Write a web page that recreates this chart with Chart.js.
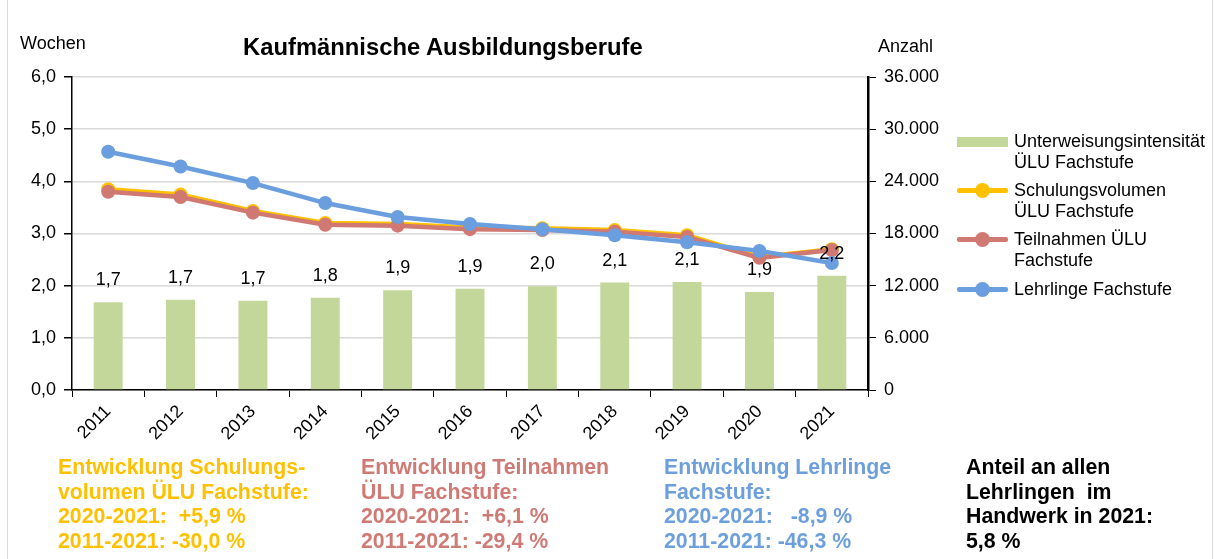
<!DOCTYPE html>
<html>
<head>
<meta charset="utf-8">
<script src="https://cdn.jsdelivr.net/npm/chart.js@4/dist/chart.umd.min.js"></script>
<style>
  body { margin: 0; background: #fff; font-family: "Liberation Sans", Arial, sans-serif; }
  #wrap { position: relative; width: 1220px; height: 559px; overflow: hidden; }
  #chart { position: absolute; left: 0; top: 0; }
  .frame { position: absolute; top: 0; width: 1px; height: 559px; background: #d9d9d9; }
  .lbl { position: absolute; white-space: nowrap; }
  .title { font-weight: bold; font-size: 23.8px; color: #000; }
  .axisName { font-size: 18px; color: #000; }
  .legend { position: absolute; left: 957px; font-size: 18px; line-height: 21px; color: #000; }
  .legend .item { position: absolute; left: 0; width: 260px; }
  .legend .txt { position: absolute; left: 57px; top: 0; }
  .legend .sw { position: absolute; left: 0; width: 51px; }
  .legend .dot { position: absolute; left: 18px; width: 15px; height: 15px; border-radius: 50%; }
  .note { position: absolute; top: 455px; font-weight: bold; font-size: 21.3px; line-height: 24.5px; white-space: nowrap; }
</style>
</head>
<body>
<div id="wrap">
  <div class="frame" style="left:7px"></div>
  <div class="frame" style="left:1212px"></div>
  <canvas id="chart" width="1220" height="559"></canvas>

  <div class="lbl axisName" style="left:20px; top:33px;">Wochen</div>
  <div class="lbl title" style="left:243px; top:33px;">Kaufmännische Ausbildungsberufe</div>
  <div class="lbl axisName" style="left:878px; top:36px;">Anzahl</div>

  <div class="legend" id="legend"></div>

  <div class="note" style="left:58px; color:#FFC000;">Entwicklung Schulungs-<br>volumen ÜLU Fachstufe:<br>2020-2021:&nbsp; +5,9 %<br>2011-2021: -30,0 %</div>
  <div class="note" style="left:361px; color:#D07A75;">Entwicklung Teilnahmen<br>ÜLU Fachstufe:<br>2020-2021:&nbsp; +6,1 %<br>2011-2021: -29,4 %</div>
  <div class="note" style="left:664px; color:#6D9FDD;">Entwicklung Lehrlinge<br>Fachstufe:<br>2020-2021: &nbsp; -8,9 %<br>2011-2021: -46,3 %</div>
  <div class="note" style="left:966px; color:#000;">Anteil an allen<br>Lehrlingen&nbsp; im<br>Handwerk in 2021:<br>5,8 %</div>
</div>

<script>
// data
const years = ['2011', '2012', '2013', '2014', '2015', '2016', '2017', '2018', '2019', '2020', '2021'];
const intensitaet = [1.68, 1.73, 1.71, 1.77, 1.91, 1.94, 1.99, 2.06, 2.07, 1.88, 2.19];
const schulungsvolumen = [23100, 22500, 20600, 19200, 19100, 18700, 18600, 18400, 17800, 15300, 16200];
const teilnahmen = [22800, 22200, 20400, 19000, 18900, 18500, 18400, 18200, 17600, 15200, 16100];
const lehrlinge = [27400, 25700, 23800, 21500, 19900, 19100, 18500, 17800, 17000, 16000, 14600];
const leftTicks = [0, 1, 2, 3, 4, 5, 6];
const rightTicks = [0, 6000, 12000, 18000, 24000, 30000, 36000];

const GREEN = '#C4D79B';
const YELLOW = '#FFC000';
const RED = '#D07872';
const BLUE = '#6A9EDE';

const FONT = "'Liberation Sans', Arial, sans-serif";

function dotThousands(v) {
  return String(v).replace(/\B(?=(\d{3})+(?!\d))/g, '.');
}

// values above the bars, with a decimal comma
const barLabels = {
  id: 'barLabels',
  afterDatasetsDraw(chart) {
    const meta = chart.getDatasetMeta(0);
    const ctx = chart.ctx;
    ctx.save();
    ctx.font = '18px ' + FONT;
    ctx.fillStyle = '#000';
    ctx.textAlign = 'center';
    ctx.textBaseline = 'middle';
    meta.data.forEach((bar, i) => {
      const txt = intensitaet[i].toFixed(1).replace('.', ',');
      ctx.fillText(txt, bar.x, bar.y - 22);
    });
    ctx.restore();
  }
};

const lineSet = (label, data, color, order) => ({
  type: 'line',
  label: label,
  data: data,
  yAxisID: 'y1',
  borderColor: color,
  backgroundColor: color,
  borderWidth: 4.5,
  pointRadius: 7,
  pointHoverRadius: 7,
  pointBorderWidth: 0,
  tension: 0,
  order: order
});

new Chart(document.getElementById('chart'), {
  type: 'bar',
  data: {
    labels: years,
    datasets: [
      {
        label: 'Unterweisungsintensität ÜLU Fachstufe',
        data: intensitaet,
        yAxisID: 'y',
        backgroundColor: GREEN,
        categoryPercentage: 1,
        barPercentage: 0.4,
        order: 4
      },
      lineSet('Schulungsvolumen ÜLU Fachstufe', schulungsvolumen, YELLOW, 3),
      lineSet('Teilnahmen ÜLU Fachstufe', teilnahmen, RED, 2),
      lineSet('Lehrlinge Fachstufe', lehrlinge, BLUE, 1)
    ]
  },
  options: {
    responsive: false,
    animation: false,
    layout: { padding: { left: 0, right: 272, top: 77, bottom: 99 } },
    plugins: {
      legend: { display: false },
      tooltip: { enabled: false },
      title: { display: false }
    },
    scales: {
      x: {
        grid: { display: true, drawOnChartArea: false, offset: true, tickLength: 7, tickColor: '#000' },
        border: { color: '#000', width: 1.5 },
        ticks: {
          color: '#000', font: { family: FONT, size: 18 },
          minRotation: 45, maxRotation: 45, padding: 4
        },
        afterFit(scale) { scale.height = 70; }
      },
      y: {
        position: 'left',
        min: 0, max: 6,
        afterBuildTicks(scale) { scale.ticks = leftTicks.map(v => ({ value: v })); },
        grid: { color: '#d9d9d9', lineWidth: 1.5, tickColor: '#000', tickLength: 8 },
        border: { color: '#000', width: 1.5 },
        ticks: {
          color: '#000', font: { family: FONT, size: 18 }, padding: 8,
          callback: v => v.toFixed(1).replace('.', ',')
        },
        afterFit(scale) { scale.width = 72; }
      },
      y1: {
        position: 'right',
        min: 0, max: 36000,
        afterBuildTicks(scale) { scale.ticks = rightTicks.map(v => ({ value: v })); },
        grid: { drawOnChartArea: false, tickColor: '#000', tickLength: 8 },
        border: { color: '#000', width: 2.5 },
        ticks: {
          color: '#000', font: { family: FONT, size: 18 }, padding: 8,
          callback: v => dotThousands(v)
        },
        afterFit(scale) { scale.width = 80; }
      }
    }
  },
  plugins: [barLabels]
});

// legend, built from the dataset names and colours
const legendItems = [
  { lines: ['Unterweisungsintensität', 'ÜLU Fachstufe'], color: GREEN, kind: 'bar', top: 131 },
  { lines: ['Schulungsvolumen', 'ÜLU Fachstufe'], color: YELLOW, kind: 'line', top: 180 },
  { lines: ['Teilnahmen ÜLU', 'Fachstufe'], color: RED, kind: 'line', top: 229 },
  { lines: ['Lehrlinge Fachstufe'], color: BLUE, kind: 'line', top: 279 }
];
const legend = document.getElementById('legend');
legendItems.forEach(it => {
  const d = document.createElement('div');
  d.className = 'item';
  d.style.top = it.top + 'px';
  let sw;
  if (it.kind === 'bar') {
    sw = `<div class="sw" style="top:6px;height:10px;background:${it.color}"></div>`;
  } else {
    sw = `<div class="sw" style="top:8px;height:5px;border-radius:2px;background:${it.color}"></div>` +
         `<div class="dot" style="top:3px;background:${it.color}"></div>`;
  }
  d.innerHTML = sw + `<div class="txt">${it.lines.join('<br>')}</div>`;
  legend.appendChild(d);
});
</script>
</body>
</html>
